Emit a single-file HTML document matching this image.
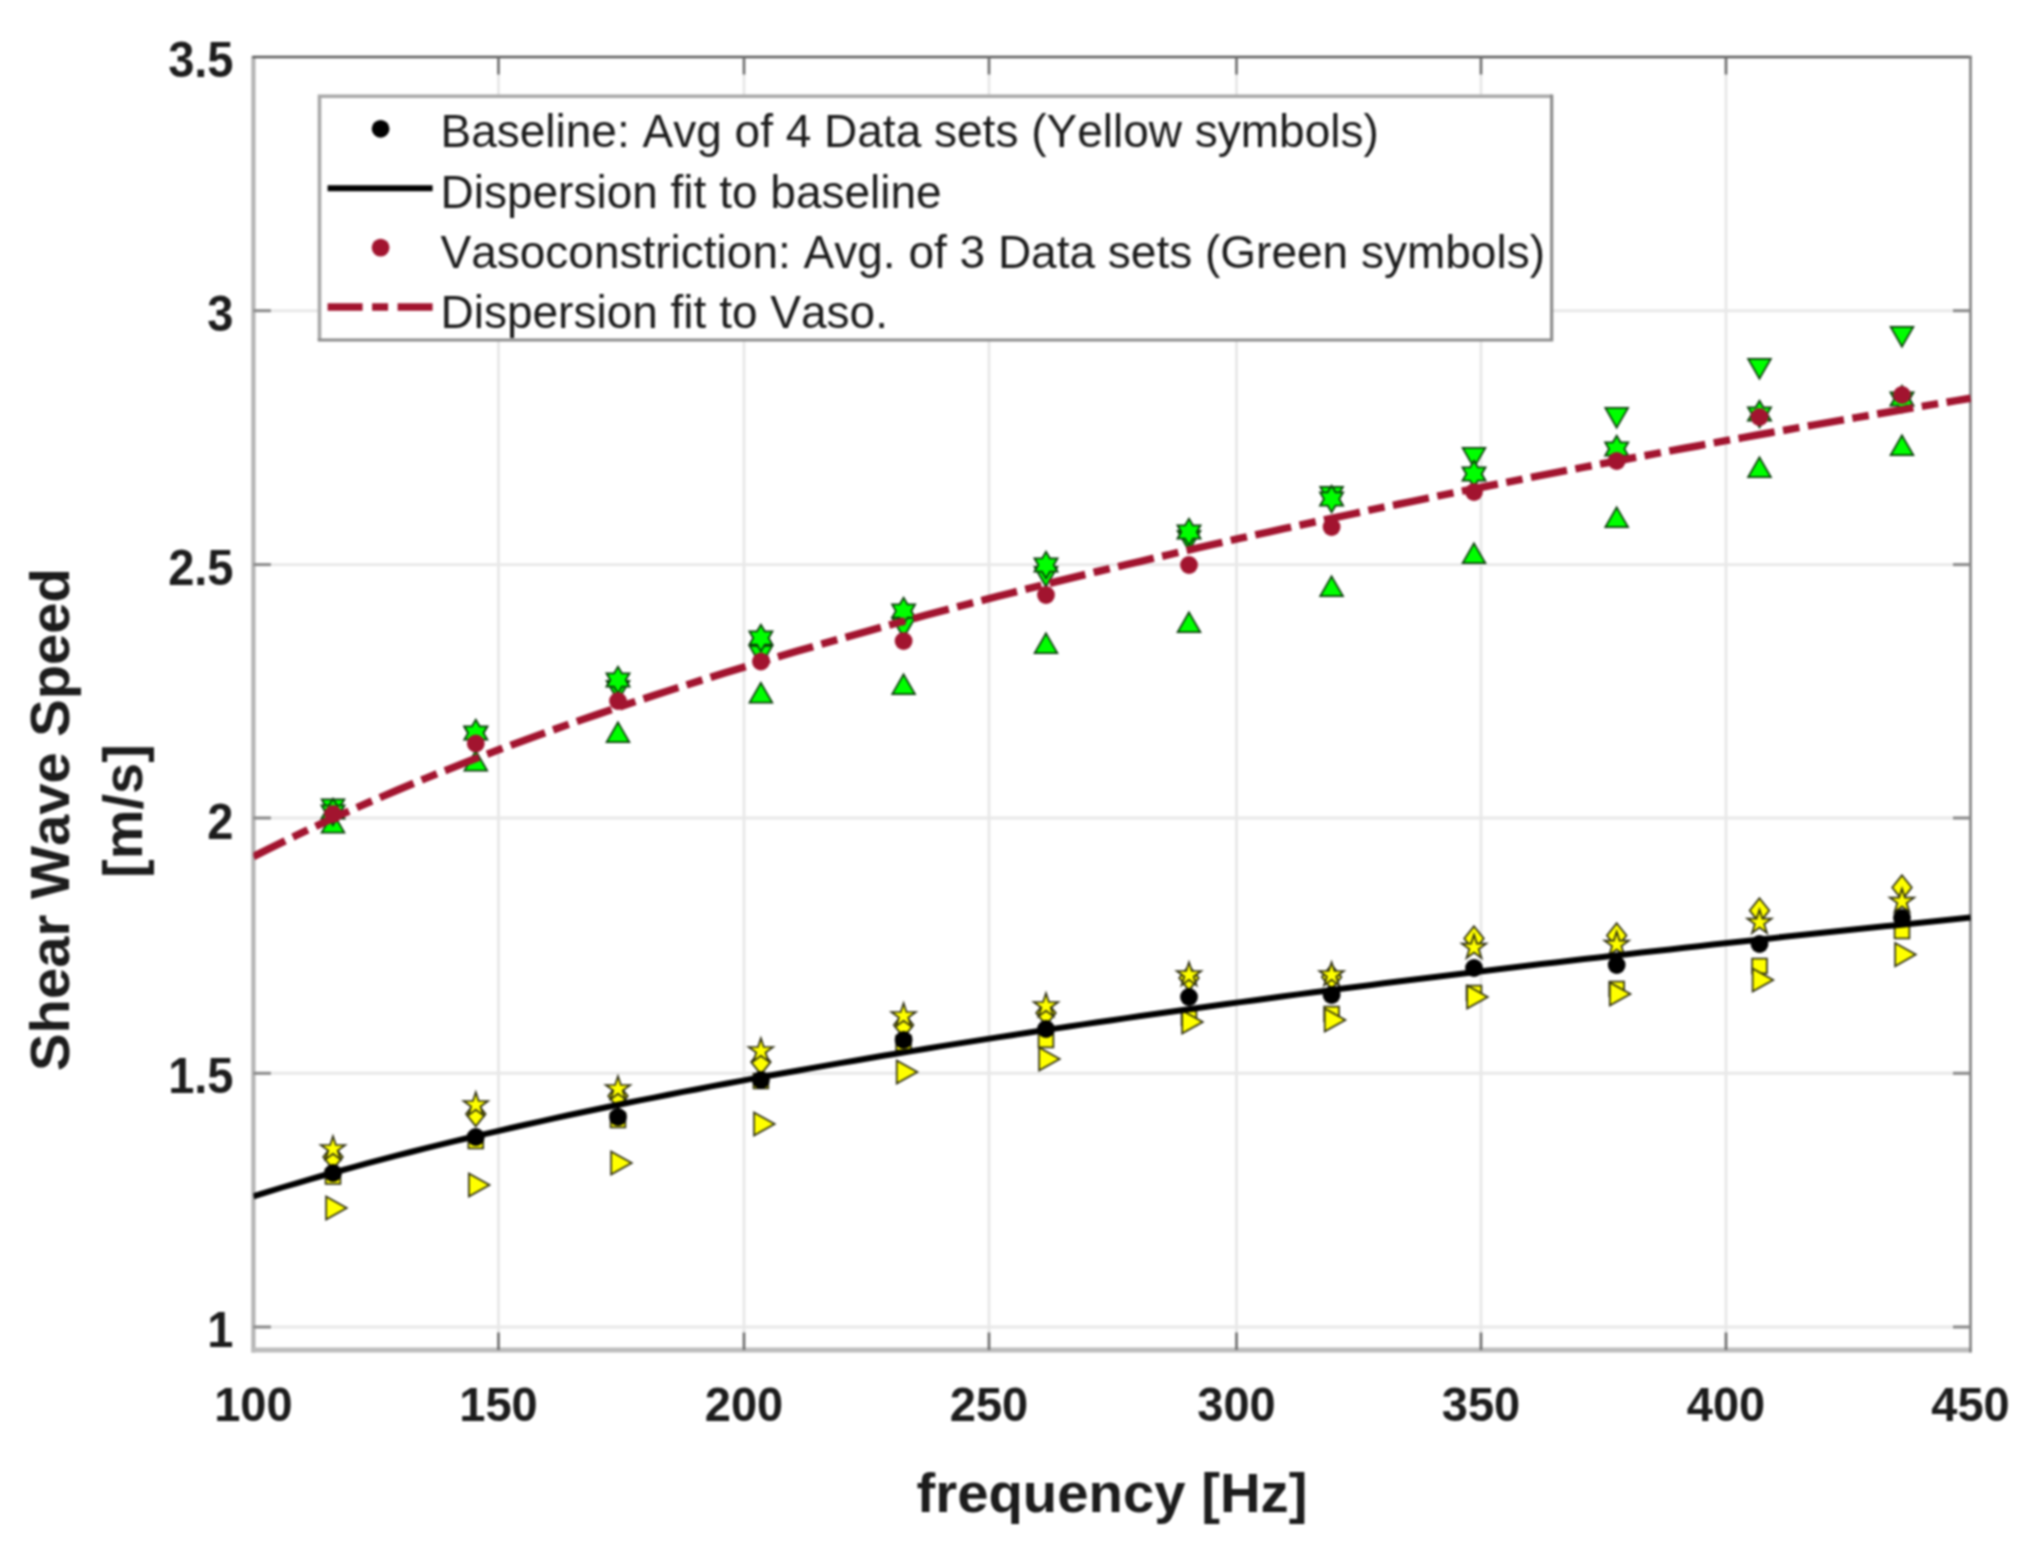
<!DOCTYPE html>
<html lang="en"><head><meta charset="utf-8"><title>Shear Wave Speed vs frequency</title>
<style>html,body{margin:0;padding:0;background:#fff;}body{width:2030px;height:1558px;overflow:hidden;}svg{display:block;filter:blur(1px);}text{font-kerning:none;font-family:"Liberation Sans",Arial,Helvetica,sans-serif;fill:#1c1c1c;}.b{font-weight:bold;}</style>
</head><body>
<svg width="2030" height="1558" viewBox="0 0 2030 1558">
<rect x="0" y="0" width="2030" height="1558" fill="#ffffff"/>
<g stroke="#e8e8e8" stroke-width="2.9" fill="none">
<line x1="498.5" y1="57.0" x2="498.5" y2="1350.0"/>
<line x1="744.0" y1="57.0" x2="744.0" y2="1350.0"/>
<line x1="989.0" y1="57.0" x2="989.0" y2="1350.0"/>
<line x1="1236.5" y1="57.0" x2="1236.5" y2="1350.0"/>
<line x1="1481.0" y1="57.0" x2="1481.0" y2="1350.0"/>
<line x1="1726.0" y1="57.0" x2="1726.0" y2="1350.0"/>
<line x1="253.4" y1="1327.0" x2="1970.5" y2="1327.0"/>
<line x1="253.4" y1="1073.3" x2="1970.5" y2="1073.3"/>
<line x1="253.4" y1="818.0" x2="1970.5" y2="818.0"/>
<line x1="253.4" y1="564.6" x2="1970.5" y2="564.6"/>
<line x1="253.4" y1="310.7" x2="1970.5" y2="310.7"/>
</g>
<line x1="253.4" y1="56.0" x2="253.4" y2="1352.5" stroke="#b4b4b4" stroke-width="4.2"/>
<line x1="251.4" y1="1350.0" x2="1971.7" y2="1350.0" stroke="#bcbcbc" stroke-width="5"/>
<line x1="252.4" y1="57.0" x2="1971.7" y2="57.0" stroke="#5a5a5a" stroke-width="2.6"/>
<line x1="1970.5" y1="56.0" x2="1970.5" y2="1352.5" stroke="#808080" stroke-width="2.6"/>
<g stroke="#6e6e6e" stroke-width="2.6">
<line x1="498.5" y1="1350.0" x2="498.5" y2="1332.5"/>
<line x1="498.5" y1="57.0" x2="498.5" y2="74.5"/>
<line x1="744.0" y1="1350.0" x2="744.0" y2="1332.5"/>
<line x1="744.0" y1="57.0" x2="744.0" y2="74.5"/>
<line x1="989.0" y1="1350.0" x2="989.0" y2="1332.5"/>
<line x1="989.0" y1="57.0" x2="989.0" y2="74.5"/>
<line x1="1236.5" y1="1350.0" x2="1236.5" y2="1332.5"/>
<line x1="1236.5" y1="57.0" x2="1236.5" y2="74.5"/>
<line x1="1481.0" y1="1350.0" x2="1481.0" y2="1332.5"/>
<line x1="1481.0" y1="57.0" x2="1481.0" y2="74.5"/>
<line x1="1726.0" y1="1350.0" x2="1726.0" y2="1332.5"/>
<line x1="1726.0" y1="57.0" x2="1726.0" y2="74.5"/>
</g><g stroke="#8a8a8a" stroke-width="3">
<line x1="253.4" y1="1327.0" x2="270.9" y2="1327.0"/>
<line x1="1970.5" y1="1327.0" x2="1953.0" y2="1327.0"/>
<line x1="253.4" y1="1073.3" x2="270.9" y2="1073.3"/>
<line x1="1970.5" y1="1073.3" x2="1953.0" y2="1073.3"/>
<line x1="253.4" y1="818.0" x2="270.9" y2="818.0"/>
<line x1="1970.5" y1="818.0" x2="1953.0" y2="818.0"/>
<line x1="253.4" y1="564.6" x2="270.9" y2="564.6"/>
<line x1="1970.5" y1="564.6" x2="1953.0" y2="564.6"/>
<line x1="253.4" y1="310.7" x2="270.9" y2="310.7"/>
<line x1="1970.5" y1="310.7" x2="1953.0" y2="310.7"/>
</g>
<defs><clipPath id="ax"><rect x="253.4" y="57.0" width="1718.6" height="1293.0"/></clipPath></defs>
<g clip-path="url(#ax)">
<g fill="#ffff00" stroke="#2e2e12" stroke-width="1.7" stroke-linejoin="miter">
<rect x="325.6" y="1169.1" width="14.8" height="14.8"/>
<rect x="468.4" y="1133.6" width="14.8" height="14.8"/>
<rect x="610.6" y="1112.6" width="14.8" height="14.8"/>
<rect x="753.5" y="1073.6" width="14.8" height="14.8"/>
<rect x="896.2" y="1035.6" width="14.8" height="14.8"/>
<rect x="1038.6" y="1032.6" width="14.8" height="14.8"/>
<rect x="1181.6" y="1010.6" width="14.8" height="14.8"/>
<rect x="1324.2" y="1006.6" width="14.8" height="14.8"/>
<rect x="1466.6" y="985.6" width="14.8" height="14.8"/>
<rect x="1609.3" y="981.6" width="14.8" height="14.8"/>
<rect x="1752.1" y="958.6" width="14.8" height="14.8"/>
<rect x="1894.6" y="923.6" width="14.8" height="14.8"/>
<polygon points="326.1,1196.4 346.8,1208.0 326.1,1219.6"/>
<polygon points="468.9,1173.4 489.6,1185.0 468.9,1196.6"/>
<polygon points="611.1,1151.4 631.8,1163.0 611.1,1174.6"/>
<polygon points="754.0,1112.4 774.7,1124.0 754.0,1135.6"/>
<polygon points="896.7,1060.4 917.4,1072.0 896.7,1083.6"/>
<polygon points="1039.1,1047.4 1059.8,1059.0 1039.1,1070.6"/>
<polygon points="1182.1,1010.4 1202.8,1022.0 1182.1,1033.6"/>
<polygon points="1324.7,1008.4 1345.4,1020.0 1324.7,1031.6"/>
<polygon points="1467.1,985.4 1487.8,997.0 1467.1,1008.6"/>
<polygon points="1609.8,982.4 1630.5,994.0 1609.8,1005.6"/>
<polygon points="1752.6,968.4 1773.3,980.0 1752.6,991.6"/>
<polygon points="1895.1,943.0 1915.8,954.6 1895.1,966.2"/>
<polygon points="333.0,1144.7 342.8,1157.0 333.0,1169.3 323.2,1157.0"/>
<polygon points="475.8,1101.7 485.6,1114.0 475.8,1126.3 466.0,1114.0"/>
<polygon points="618.0,1083.7 627.8,1096.0 618.0,1108.3 608.2,1096.0"/>
<polygon points="760.9,1049.7 770.7,1062.0 760.9,1074.3 751.1,1062.0"/>
<polygon points="903.6,1012.7 913.4,1025.0 903.6,1037.3 893.8,1025.0"/>
<polygon points="1046.0,1000.7 1055.8,1013.0 1046.0,1025.3 1036.2,1013.0"/>
<polygon points="1189.0,965.7 1198.8,978.0 1189.0,990.3 1179.2,978.0"/>
<polygon points="1331.6,964.7 1341.4,977.0 1331.6,989.3 1321.8,977.0"/>
<polygon points="1474.0,926.2 1483.8,938.5 1474.0,950.8 1464.2,938.5"/>
<polygon points="1616.7,923.2 1626.5,935.5 1616.7,947.8 1606.9,935.5"/>
<polygon points="1759.5,898.2 1769.3,910.5 1759.5,922.8 1749.7,910.5"/>
<polygon points="1902.0,875.2 1911.8,887.5 1902.0,899.8 1892.2,887.5"/>
<polygon points="333.0,1136.2 335.9,1145.0 345.2,1145.0 337.7,1150.5 340.5,1159.4 333.0,1153.9 325.5,1159.4 328.3,1150.5 320.8,1145.0 330.1,1145.0"/>
<polygon points="475.8,1092.2 478.7,1101.0 488.0,1101.0 480.5,1106.5 483.3,1115.4 475.8,1109.9 468.3,1115.4 471.1,1106.5 463.6,1101.0 472.9,1101.0"/>
<polygon points="618.0,1076.2 620.9,1085.0 630.2,1085.0 622.7,1090.5 625.5,1099.4 618.0,1093.9 610.5,1099.4 613.3,1090.5 605.8,1085.0 615.1,1085.0"/>
<polygon points="760.9,1038.2 763.8,1047.0 773.1,1047.0 765.6,1052.5 768.4,1061.4 760.9,1055.9 753.4,1061.4 756.2,1052.5 748.7,1047.0 758.0,1047.0"/>
<polygon points="903.6,1003.2 906.5,1012.0 915.8,1012.0 908.3,1017.5 911.1,1026.4 903.6,1020.9 896.1,1026.4 898.9,1017.5 891.4,1012.0 900.7,1012.0"/>
<polygon points="1046.0,993.2 1048.9,1002.0 1058.2,1002.0 1050.7,1007.5 1053.5,1016.4 1046.0,1010.9 1038.5,1016.4 1041.3,1007.5 1033.8,1002.0 1043.1,1002.0"/>
<polygon points="1189.0,962.2 1191.9,971.0 1201.2,971.0 1193.7,976.5 1196.5,985.4 1189.0,979.9 1181.5,985.4 1184.3,976.5 1176.8,971.0 1186.1,971.0"/>
<polygon points="1331.6,962.2 1334.5,971.0 1343.8,971.0 1336.3,976.5 1339.1,985.4 1331.6,979.9 1324.1,985.4 1326.9,976.5 1319.4,971.0 1328.7,971.0"/>
<polygon points="1474.0,934.8 1476.9,943.6 1486.2,943.6 1478.7,949.1 1481.5,958.0 1474.0,952.5 1466.5,958.0 1469.3,949.1 1461.8,943.6 1471.1,943.6"/>
<polygon points="1616.7,931.8 1619.6,940.6 1628.9,940.6 1621.4,946.1 1624.2,955.0 1616.7,949.5 1609.2,955.0 1612.0,946.1 1604.5,940.6 1613.8,940.6"/>
<polygon points="1759.5,909.8 1762.4,918.6 1771.7,918.6 1764.2,924.1 1767.0,933.0 1759.5,927.5 1752.0,933.0 1754.8,924.1 1747.3,918.6 1756.6,918.6"/>
<polygon points="1902.0,888.8 1904.9,897.6 1914.2,897.6 1906.7,903.1 1909.5,912.0 1902.0,906.5 1894.5,912.0 1897.3,903.1 1889.8,897.6 1899.1,897.6"/>
</g>
<g fill="#000000">
<circle cx="333.0" cy="1173.0" r="8.9"/>
<circle cx="475.8" cy="1137.0" r="8.9"/>
<circle cx="618.0" cy="1117.0" r="8.9"/>
<circle cx="760.9" cy="1080.0" r="8.9"/>
<circle cx="903.6" cy="1040.0" r="8.9"/>
<circle cx="1046.0" cy="1029.0" r="8.9"/>
<circle cx="1189.0" cy="997.0" r="8.9"/>
<circle cx="1331.6" cy="995.0" r="8.9"/>
<circle cx="1474.0" cy="968.0" r="8.9"/>
<circle cx="1616.7" cy="965.0" r="8.9"/>
<circle cx="1759.5" cy="944.0" r="8.9"/>
<circle cx="1902.0" cy="918.0" r="8.9"/>
</g>
<path d="M253.4,1196.3 L267.7,1191.9 L282.0,1187.5 L296.3,1183.3 L310.6,1179.1 L324.9,1175.0 L339.3,1171.0 L353.6,1167.1 L367.9,1163.2 L382.2,1159.4 L396.5,1155.7 L410.8,1152.0 L425.1,1148.4 L439.4,1144.9 L453.7,1141.4 L468.0,1138.0 L482.3,1134.6 L496.7,1131.3 L511.0,1128.0 L525.3,1124.8 L539.6,1121.6 L553.9,1118.4 L568.2,1115.3 L582.5,1112.3 L596.8,1109.3 L611.1,1106.3 L625.4,1103.3 L639.7,1100.4 L654.1,1097.6 L668.4,1094.7 L682.7,1091.9 L697.0,1089.2 L711.3,1086.4 L725.6,1083.7 L739.9,1081.1 L754.2,1078.4 L768.5,1075.8 L782.8,1073.2 L797.1,1070.7 L811.5,1068.1 L825.8,1065.6 L840.1,1063.1 L854.4,1060.7 L868.7,1058.3 L883.0,1055.8 L897.3,1053.5 L911.6,1051.1 L925.9,1048.8 L940.2,1046.4 L954.5,1044.1 L968.9,1041.9 L983.2,1039.6 L997.5,1037.4 L1011.8,1035.2 L1026.1,1033.0 L1040.4,1030.8 L1054.7,1028.6 L1069.0,1026.5 L1083.3,1024.4 L1097.6,1022.3 L1112.0,1020.2 L1126.3,1018.1 L1140.6,1016.0 L1154.9,1014.0 L1169.2,1012.0 L1183.5,1010.0 L1197.8,1008.0 L1212.1,1006.0 L1226.4,1004.0 L1240.7,1002.1 L1255.0,1000.2 L1269.4,998.2 L1283.7,996.3 L1298.0,994.4 L1312.3,992.6 L1326.6,990.7 L1340.9,988.8 L1355.2,987.0 L1369.5,985.2 L1383.8,983.3 L1398.1,981.5 L1412.4,979.8 L1426.8,978.0 L1441.1,976.2 L1455.4,974.4 L1469.7,972.7 L1484.0,971.0 L1498.3,969.2 L1512.6,967.5 L1526.9,965.8 L1541.2,964.1 L1555.5,962.5 L1569.8,960.8 L1584.2,959.1 L1598.5,957.5 L1612.8,955.8 L1627.1,954.2 L1641.4,952.6 L1655.7,951.0 L1670.0,949.4 L1684.3,947.8 L1698.6,946.2 L1712.9,944.6 L1727.2,943.0 L1741.6,941.5 L1755.9,939.9 L1770.2,938.4 L1784.5,936.8 L1798.8,935.3 L1813.1,933.8 L1827.4,932.3 L1841.7,930.8 L1856.0,929.3 L1870.3,927.8 L1884.6,926.3 L1899.0,924.9 L1913.3,923.4 L1927.6,921.9 L1941.9,920.5 L1956.2,919.0 L1970.5,917.6" fill="none" stroke="#000000" stroke-width="6"/>
<g fill="#00ff00" stroke="#0a3a0a" stroke-width="1.7" stroke-linejoin="miter">
<polygon points="333.0,812.8 344.4,832.6 321.6,832.6"/>
<polygon points="475.8,750.8 487.2,770.6 464.4,770.6"/>
<polygon points="618.0,722.3 629.4,742.1 606.6,742.1"/>
<polygon points="760.9,682.8 772.3,702.6 749.5,702.6"/>
<polygon points="903.6,674.3 915.0,694.1 892.2,694.1"/>
<polygon points="1046.0,633.3 1057.4,653.1 1034.6,653.1"/>
<polygon points="1189.0,612.3 1200.4,632.1 1177.6,632.1"/>
<polygon points="1331.6,576.3 1343.0,596.1 1320.2,596.1"/>
<polygon points="1474.0,543.3 1485.4,563.1 1462.6,563.1"/>
<polygon points="1616.7,507.3 1628.1,527.1 1605.3,527.1"/>
<polygon points="1759.5,457.3 1770.9,477.1 1748.1,477.1"/>
<polygon points="1902.0,435.3 1913.4,455.1 1890.6,455.1"/>
<polygon points="333.0,819.2 344.4,799.4 321.6,799.4"/>
<polygon points="475.8,746.7 487.2,726.9 464.4,726.9"/>
<polygon points="618.0,700.7 629.4,680.9 606.6,680.9"/>
<polygon points="760.9,665.7 772.3,645.9 749.5,645.9"/>
<polygon points="903.6,637.7 915.0,617.9 892.2,617.9"/>
<polygon points="1046.0,586.7 1057.4,566.9 1034.6,566.9"/>
<polygon points="1189.0,550.7 1200.4,530.9 1177.6,530.9"/>
<polygon points="1331.6,506.7 1343.0,486.9 1320.2,486.9"/>
<polygon points="1474.0,467.7 1485.4,447.9 1462.6,447.9"/>
<polygon points="1616.7,427.7 1628.1,407.9 1605.3,407.9"/>
<polygon points="1759.5,378.7 1770.9,358.9 1748.1,358.9"/>
<polygon points="1902.0,346.7 1913.4,326.9 1890.6,326.9"/>
<polygon points="333.0,798.6 336.9,805.3 344.6,805.3 340.7,812.0 344.6,818.7 336.9,818.7 333.0,825.4 329.1,818.7 321.4,818.7 325.3,812.0 321.4,805.3 329.1,805.3"/>
<polygon points="475.8,719.6 479.7,726.3 487.4,726.3 483.5,733.0 487.4,739.7 479.7,739.7 475.8,746.4 471.9,739.7 464.2,739.7 468.1,733.0 464.2,726.3 471.9,726.3"/>
<polygon points="618.0,666.6 621.9,673.3 629.6,673.3 625.7,680.0 629.6,686.7 621.9,686.7 618.0,693.4 614.1,686.7 606.4,686.7 610.3,680.0 606.4,673.3 614.1,673.3"/>
<polygon points="760.9,624.6 764.8,631.3 772.5,631.3 768.6,638.0 772.5,644.7 764.8,644.7 760.9,651.4 757.0,644.7 749.3,644.7 753.2,638.0 749.3,631.3 757.0,631.3"/>
<polygon points="903.6,597.6 907.5,604.3 915.2,604.3 911.3,611.0 915.2,617.7 907.5,617.7 903.6,624.4 899.7,617.7 892.0,617.7 895.9,611.0 892.0,604.3 899.7,604.3"/>
<polygon points="1046.0,551.6 1049.9,558.3 1057.6,558.3 1053.7,565.0 1057.6,571.7 1049.9,571.7 1046.0,578.4 1042.1,571.7 1034.4,571.7 1038.3,565.0 1034.4,558.3 1042.1,558.3"/>
<polygon points="1189.0,518.6 1192.9,525.3 1200.6,525.3 1196.7,532.0 1200.6,538.7 1192.9,538.7 1189.0,545.4 1185.1,538.7 1177.4,538.7 1181.3,532.0 1177.4,525.3 1185.1,525.3"/>
<polygon points="1331.6,485.6 1335.5,492.3 1343.2,492.3 1339.3,499.0 1343.2,505.7 1335.5,505.7 1331.6,512.4 1327.7,505.7 1320.0,505.7 1323.9,499.0 1320.0,492.3 1327.7,492.3"/>
<polygon points="1474.0,460.6 1477.9,467.3 1485.6,467.3 1481.7,474.0 1485.6,480.7 1477.9,480.7 1474.0,487.4 1470.1,480.7 1462.4,480.7 1466.3,474.0 1462.4,467.3 1470.1,467.3"/>
<polygon points="1616.7,435.6 1620.6,442.3 1628.3,442.3 1624.4,449.0 1628.3,455.7 1620.6,455.7 1616.7,462.4 1612.8,455.7 1605.1,455.7 1609.0,449.0 1605.1,442.3 1612.8,442.3"/>
<polygon points="1759.5,400.6 1763.4,407.3 1771.1,407.3 1767.2,414.0 1771.1,420.7 1763.4,420.7 1759.5,427.4 1755.6,420.7 1747.9,420.7 1751.8,414.0 1747.9,407.3 1755.6,407.3"/>
<polygon points="1902.0,385.6 1905.9,392.3 1913.6,392.3 1909.7,399.0 1913.6,405.7 1905.9,405.7 1902.0,412.4 1898.1,405.7 1890.4,405.7 1894.3,399.0 1890.4,392.3 1898.1,392.3"/>
</g>
<g fill="#a2142f">
<circle cx="333.0" cy="814.0" r="8.9"/>
<circle cx="475.8" cy="743.5" r="8.9"/>
<circle cx="618.0" cy="701.0" r="8.9"/>
<circle cx="760.9" cy="661.5" r="8.9"/>
<circle cx="903.6" cy="641.0" r="8.9"/>
<circle cx="1046.0" cy="595.0" r="8.9"/>
<circle cx="1189.0" cy="565.0" r="8.9"/>
<circle cx="1331.6" cy="527.0" r="8.9"/>
<circle cx="1474.0" cy="492.0" r="8.9"/>
<circle cx="1616.7" cy="461.0" r="8.9"/>
<circle cx="1759.5" cy="417.0" r="8.9"/>
<circle cx="1902.0" cy="395.0" r="8.9"/>
</g>
<path d="M253.4,856.6 L267.7,849.4 L282.0,842.3 L296.3,835.4 L310.6,828.6 L324.9,822.0 L339.3,815.4 L353.6,809.0 L367.9,802.7 L382.2,796.6 L396.5,790.5 L410.8,784.5 L425.1,778.6 L439.4,772.8 L453.7,767.2 L468.0,761.5 L482.3,756.0 L496.7,750.6 L511.0,745.2 L525.3,739.9 L539.6,734.7 L553.9,729.6 L568.2,724.5 L582.5,719.5 L596.8,714.6 L611.1,709.7 L625.4,704.9 L639.7,700.1 L654.1,695.4 L668.4,690.7 L682.7,686.2 L697.0,681.6 L711.3,677.1 L725.6,672.7 L739.9,668.3 L754.2,664.0 L768.5,659.7 L782.8,655.4 L797.1,651.2 L811.5,647.1 L825.8,642.9 L840.1,638.9 L854.4,634.8 L868.7,630.8 L883.0,626.9 L897.3,622.9 L911.6,619.0 L925.9,615.2 L940.2,611.4 L954.5,607.6 L968.9,603.8 L983.2,600.1 L997.5,596.4 L1011.8,592.8 L1026.1,589.2 L1040.4,585.6 L1054.7,582.0 L1069.0,578.5 L1083.3,575.0 L1097.6,571.5 L1112.0,568.1 L1126.3,564.7 L1140.6,561.3 L1154.9,557.9 L1169.2,554.6 L1183.5,551.2 L1197.8,547.9 L1212.1,544.7 L1226.4,541.4 L1240.7,538.2 L1255.0,535.0 L1269.4,531.8 L1283.7,528.7 L1298.0,525.6 L1312.3,522.5 L1326.6,519.4 L1340.9,516.3 L1355.2,513.3 L1369.5,510.2 L1383.8,507.2 L1398.1,504.3 L1412.4,501.3 L1426.8,498.3 L1441.1,495.4 L1455.4,492.5 L1469.7,489.6 L1484.0,486.7 L1498.3,483.9 L1512.6,481.1 L1526.9,478.2 L1541.2,475.4 L1555.5,472.6 L1569.8,469.9 L1584.2,467.1 L1598.5,464.4 L1612.8,461.7 L1627.1,459.0 L1641.4,456.3 L1655.7,453.6 L1670.0,450.9 L1684.3,448.3 L1698.6,445.7 L1712.9,443.0 L1727.2,440.4 L1741.6,437.9 L1755.9,435.3 L1770.2,432.7 L1784.5,430.2 L1798.8,427.6 L1813.1,425.1 L1827.4,422.6 L1841.7,420.1 L1856.0,417.6 L1870.3,415.2 L1884.6,412.7 L1899.0,410.3 L1913.3,407.8 L1927.6,405.4 L1941.9,403.0 L1956.2,400.6 L1970.5,398.2" fill="none" stroke="#a2142f" stroke-width="7.5" stroke-dasharray="36.7 8.55 16.6 8.55" stroke-dashoffset="1.2"/>
</g>
<rect x="319.5" y="96.3" width="1232.2" height="243.7" fill="#ffffff" stroke="none"/>
<path d="M319.5,340.0 L319.5,96.3 L1551.7,96.3" fill="none" stroke="#a8a8a8" stroke-width="3.6"/>
<path d="M317.7,340.0 L1551.7,340.0 L1551.7,94.5" fill="none" stroke="#8c8c8c" stroke-width="3.2"/>
<circle cx="380.6" cy="128.8" r="8.9" fill="#000"/>
<line x1="327.6" y1="188.3" x2="432.6" y2="188.3" stroke="#000" stroke-width="6"/>
<circle cx="380.6" cy="247.6" r="8.9" fill="#a2142f"/>
<line x1="327.6" y1="307" x2="432.6" y2="307" stroke="#a2142f" stroke-width="7.4" stroke-dasharray="35 9.5 16 9.5"/>
<text x="440.5" y="147.4" font-size="46">Baseline: Avg of 4 Data sets (Yellow symbols)</text>
<text x="440.5" y="207.5" font-size="46">Dispersion fit to baseline</text>
<text x="440.5" y="267.6" font-size="46">Vasoconstriction: Avg. of 3 Data sets (Green symbols)</text>
<text x="440.5" y="327.7" font-size="46">Dispersion fit to Vaso.</text>
<text class="b" transform="translate(253.4,1420.5) scale(1,1.04)" font-size="47" text-anchor="middle">100</text>
<text class="b" transform="translate(498.5,1420.5) scale(1,1.04)" font-size="47" text-anchor="middle">150</text>
<text class="b" transform="translate(744.0,1420.5) scale(1,1.04)" font-size="47" text-anchor="middle">200</text>
<text class="b" transform="translate(989.0,1420.5) scale(1,1.04)" font-size="47" text-anchor="middle">250</text>
<text class="b" transform="translate(1236.5,1420.5) scale(1,1.04)" font-size="47" text-anchor="middle">300</text>
<text class="b" transform="translate(1481.0,1420.5) scale(1,1.04)" font-size="47" text-anchor="middle">350</text>
<text class="b" transform="translate(1726.0,1420.5) scale(1,1.04)" font-size="47" text-anchor="middle">400</text>
<text class="b" transform="translate(1970.5,1420.5) scale(1,1.04)" font-size="47" text-anchor="middle">450</text>
<text class="b" transform="translate(233.5,1346.5) scale(1,1.06)" font-size="47" text-anchor="end">1</text>
<text class="b" transform="translate(233.5,1092.5) scale(1,1.06)" font-size="47" text-anchor="end">1.5</text>
<text class="b" transform="translate(233.5,838.5) scale(1,1.06)" font-size="47" text-anchor="end">2</text>
<text class="b" transform="translate(233.5,584.5) scale(1,1.06)" font-size="47" text-anchor="end">2.5</text>
<text class="b" transform="translate(233.5,330.5) scale(1,1.06)" font-size="47" text-anchor="end">3</text>
<text class="b" transform="translate(233.5,76.5) scale(1,1.06)" font-size="47" text-anchor="end">3.5</text>
<text class="b" x="1112" y="1512.3" font-size="56.3" text-anchor="middle">frequency [Hz]</text>
<text class="b" transform="translate(69.3,819.5) rotate(-90)" font-size="56.2" text-anchor="middle">Shear Wave Speed</text>
<text class="b" transform="translate(142,811) rotate(-90)" font-size="56" text-anchor="middle">[m/s]</text>
</svg></body></html>
